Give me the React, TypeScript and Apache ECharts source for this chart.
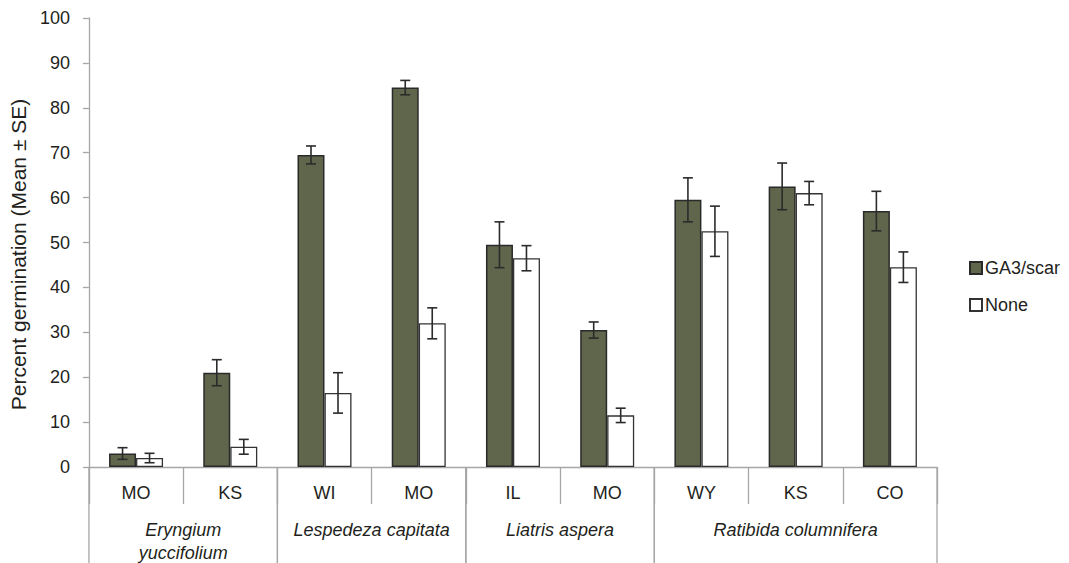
import React, { useEffect, useRef } from "react";
import * as echarts from "echarts";

const categories = ["MO", "KS", "WI", "MO", "IL", "MO", "WY", "KS", "CO"];
const ga3Values = [3.0, 21.0, 69.5, 84.5, 49.5, 30.5, 59.5, 62.5, 57.0];
const ga3Errors = [1.3, 2.9, 2.0, 1.6, 5.1, 1.8, 4.9, 5.2, 4.4];
const noneValues = [2.0, 4.5, 16.5, 32.0, 46.5, 11.5, 52.5, 61.0, 44.5];
const noneErrors = [1.05, 1.65, 4.5, 3.45, 2.8, 1.6, 5.6, 2.6, 3.4];
const groupNames = ["Eryngium\nyuccifolium", "Lespedeza capitata", "Liatris aspera", "Ratibida columnifera"];
const groupStart = [0, 2, 4, 6];
const groupEnd = [1, 3, 5, 8];
const yTicks = { min: 0, max: 100, interval: 10 };

const FONT = "'Liberation Sans', Arial, Helvetica, sans-serif";
const TEXT = "#231f20";
const AXIS = "#a6a6a6";
const BAR_W = 27;

function errorSeries(values: number[], errors: number[], offset: number) {
  return {
    type: "custom",
    z: 5,
    silent: true,
    clip: false,
    data: values.map((v, i) => [i, v - errors[i], v + errors[i]]),
    encode: { x: 0, y: [1, 2] },
    renderItem: (params: any, api: any) => {
      const idx = api.value(0);
      const lo = api.coord([idx, api.value(1)]);
      const hi = api.coord([idx, api.value(2)]);
      const x = lo[0] + offset;
      const cap = 5;
      const style = { stroke: "#2b2b2b", lineWidth: 1.6 };
      return {
        type: "group",
        children: [
          { type: "line", shape: { x1: x, y1: lo[1], x2: x, y2: hi[1] }, style },
          { type: "line", shape: { x1: x - cap, y1: lo[1], x2: x + cap, y2: lo[1] }, style },
          { type: "line", shape: { x1: x - cap, y1: hi[1], x2: x + cap, y2: hi[1] }, style },
        ],
      };
    },
  };
}

export default function App() {
  const ref = useRef<HTMLDivElement>(null);
  useEffect(() => {
    if (!ref.current) return;
    const chart = echarts.init(ref.current, null, { renderer: "svg" });
    chart.setOption({
      animation: false,
      backgroundColor: "#ffffff",
      textStyle: { fontFamily: FONT, color: TEXT },
      grid: { left: 88, right: 132, top: 18, bottom: 96, containLabel: false },
      legend: {
        data: ["GA3/scar", "None"],
        orient: "vertical",
        left: 969,
        top: 259,
        padding: 0,
        itemWidth: 12,
        itemHeight: 12,
        itemGap: 19,
        icon: "rect",
        textStyle: { fontSize: 18, color: TEXT, fontFamily: FONT, padding: [0, 0, 0, -2] },
      },
      xAxis: {
        type: "category",
        data: categories,
        axisLine: { show: true, lineStyle: { color: AXIS, width: 1.3 } },
        axisTick: { show: true, interval: 0, length: 37, alignWithLabel: false, lineStyle: { color: AXIS, width: 1.3 } },
        axisLabel: { interval: 0, margin: 17, fontSize: 18, color: TEXT, fontFamily: FONT },
        splitLine: { show: false },
      },
      yAxis: {
        type: "value",
        min: yTicks.min,
        max: yTicks.max,
        interval: yTicks.interval,
        name: "Percent germination (Mean ± SE)",
        nameLocation: "middle",
        nameGap: 55,
        nameTextStyle: { fontSize: 21, color: TEXT, fontFamily: FONT, padding: [0, 24, 0, 0] },
        axisLine: { show: true, lineStyle: { color: AXIS, width: 1.3 } },
        axisTick: { show: true, inside: false, length: 6, lineStyle: { color: AXIS, width: 1.3 } },
        axisLabel: { margin: 19, fontSize: 18, color: TEXT, fontFamily: FONT },
        splitLine: { show: false },
      },
      series: [
        {
          name: "GA3/scar",
          type: "bar",
          data: ga3Values,
          barWidth: BAR_W,
          barGap: "0%",
          itemStyle: { color: "#5f664b", borderColor: "#2a2a2a", borderWidth: 1.5 },
        },
        {
          name: "None",
          type: "bar",
          data: noneValues,
          barWidth: BAR_W,
          barGap: "0%",
          itemStyle: { color: "#ffffff", borderColor: "#333333", borderWidth: 1.3 },
        },
        errorSeries(ga3Values, ga3Errors, -BAR_W / 2),
        errorSeries(noneValues, noneErrors, BAR_W / 2),
        {
          type: "custom",
          silent: true,
          clip: false,
          z: 1,
          data: groupStart.map((s, i) => [s, groupEnd[i]]),
          encode: { x: 0, y: 1 },
          renderItem: (params: any, api: any) => {
            const s = api.value(0);
            const e = api.value(1);
            const bw = api.size([1, 0])[0];
            const base = api.coord([s, 0]);
            const left = base[0] - bw / 2;
            const right = api.coord([e, 0])[0] + bw / 2;
            const y0 = base[1];
            const lineStyle = { stroke: AXIS, lineWidth: 1.3 };
            return {
              type: "group",
              children: [
                { type: "line", shape: { x1: left, y1: y0, x2: left, y2: y0 + 100 }, style: lineStyle },
                { type: "line", shape: { x1: right, y1: y0, x2: right, y2: y0 + 100 }, style: lineStyle },
                {
                  type: "text",
                  x: (left + right) / 2,
                  y: y0 + 51,
                  style: {
                    text: groupNames[params.dataIndex],
                    align: "center",
                    verticalAlign: "top",
                    fontSize: 18,
                    fontStyle: "italic",
                    fontFamily: FONT,
                    fill: TEXT,
                    lineHeight: 23,
                  },
                },
              ],
            };
          },
        },
      ],
    });
    return () => chart.dispose();
  }, []);
  return <div ref={ref} style={{ width: 1069, height: 563, position: "absolute", left: 0, top: 0 }} />;
}
